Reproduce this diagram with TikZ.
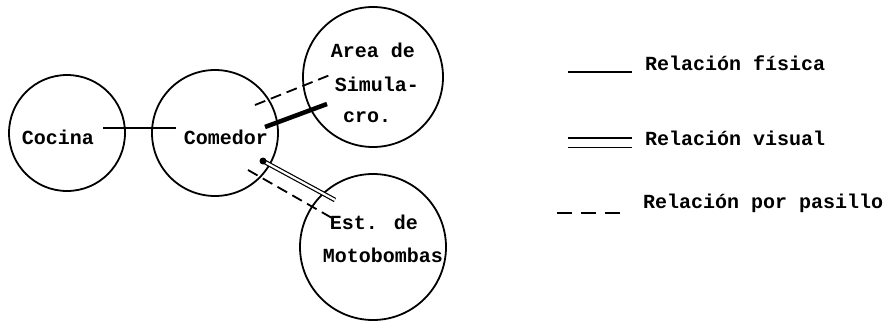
\documentclass[tikz,border=0pt]{standalone}
\usepackage{fontspec}
\setmainfont{Liberation Mono}
\begin{document}
\begin{tikzpicture}[x=1pt,y=-1pt,
  room/.style={circle,draw,line width=1.8pt,inner sep=0pt},
  lbl/.style={font=\fontsize{20}{21}\selectfont\bfseries,inner sep=0pt},
  leg/.style={font=\fontsize{20}{21}\selectfont\bfseries,inner sep=0pt,anchor=west},
  fis/.style={line width=2pt},
  fisthick/.style={line width=4.5pt},
  vis/.style={double,double distance=2.2pt,line width=1.2pt},
  pas/.style={dashed,dash pattern=on 11pt off 6pt,line width=1.8pt}]
\useasboundingbox (0,0) rectangle (896,321);
% rooms
\node[room,minimum size=116pt] (cocina) at (67,133) {};
\node[room,minimum size=126pt] (comedor) at (215,133) {};
\node[room,minimum size=140pt] (area) at (373,77) {};
\node[room,minimum size=146pt] (moto) at (373,247) {};
% labels
\node[lbl] (tcocina) at (58,137) {Cocina};
\node[lbl] (tcomedor) at (226,137) {Comedor};
\node[lbl] (tarea1) at (373,50) {Area de};
\node[lbl] (tarea2) at (377,84) {Simula-};
\node[lbl] (tarea3) at (367,117) {cro.};
\node[lbl] (tmoto1) at (374,222) {Est. de};
\node[lbl] (tmoto2) at (383,255) {Motobombas};
% connector ends
\coordinate (f1a) at (103,128); \coordinate (f1b) at (176,128);
\coordinate (f2a) at (265,127); \coordinate (f2b) at (327,104);
\coordinate (p1a) at (255,105); \coordinate (p1b) at (330,75);
\coordinate (v1a) at (263,161); \coordinate (v1b) at (335,200);
\coordinate (p2a) at (248,170); \coordinate (p2b) at (332,218);
\draw[fis] (f1a) -- (f1b);
\draw[fisthick] (f2a) -- (f2b);
\draw[pas] (p1a) -- (p1b);
\draw[vis] (v1a) -- (v1b);
\fill (v1a) circle (3.5pt);
\draw[pas] (p2a) -- (p2b);
% legend
\coordinate (l1a) at (568,72); \coordinate (l1b) at (632,72);
\coordinate (l2a) at (568,142.5); \coordinate (l2b) at (632,142.5);
\coordinate (l3a) at (557,213); \coordinate (l3b) at (620,213);
\draw[fis] (l1a) -- (l1b);
\draw[line width=1.8pt,double,double distance=8pt] (l2a) -- (l2b);
\draw[line width=2.5pt,dash pattern=on 15pt off 9pt] (l3a) -- (l3b);
\node[leg] (t1) at (645,63) {Relación física};
\node[leg] (t2) at (645,138) {Relación visual};
\node[leg] (t3) at (643,203) {Relación por pasillo};
\end{tikzpicture}
\end{document}
